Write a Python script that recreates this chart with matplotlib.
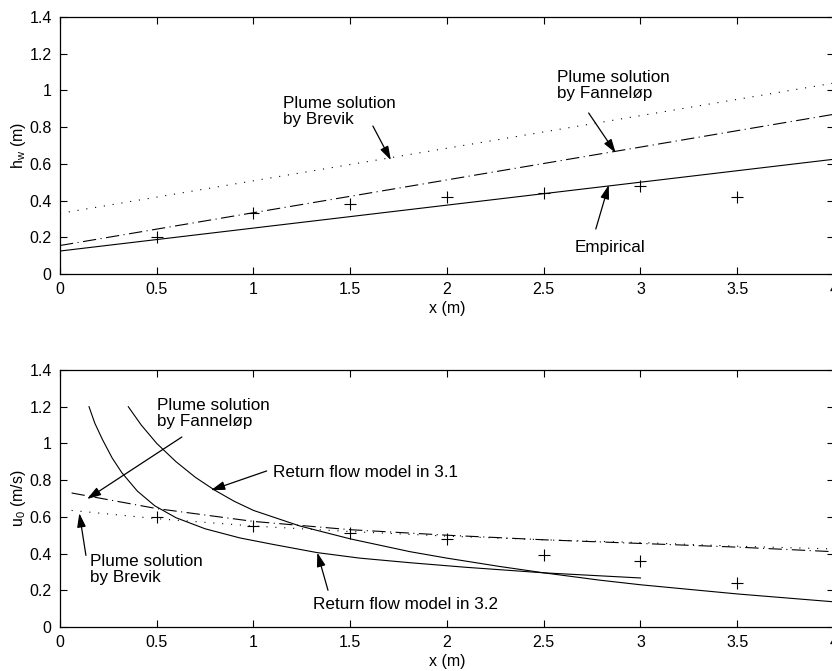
import matplotlib
matplotlib.use("Agg")
import matplotlib.pyplot as plt
from matplotlib.ticker import FuncFormatter

plt.rcParams['font.family'] = ['Liberation Sans', 'DejaVu Sans']
plt.rcParams['mathtext.default'] = 'regular'

# ---- top panel: water layer thickness h_w
x_meas = [0.5, 1.0, 1.5, 2.0, 2.5, 3.0, 3.5]
hw_meas = [0.20, 0.33, 0.38, 0.42, 0.44, 0.48, 0.42]
x_line = [0.0, 4.0]
hw_empirical = [0.125, 0.625]
hw_fannelop = [0.155, 0.87]
hw_brevik = [0.33, 1.04]

# ---- bottom panel: return velocity u_0
u0_meas = [0.60, 0.55, 0.51, 0.48, 0.39, 0.36, 0.24]
x_rf31 = [0.353, 0.42, 0.50, 0.60, 0.70, 0.80, 0.90, 1.00, 1.24, 1.50,
          1.81, 2.00, 2.27, 2.50, 2.79, 3.00, 3.50, 4.00]
u0_rf31 = [1.20, 1.10, 1.00, 0.90, 0.815, 0.745, 0.685, 0.635, 0.55, 0.48,
           0.41, 0.375, 0.33, 0.295, 0.255, 0.23, 0.18, 0.137]
x_rf32 = [0.15, 0.18, 0.22, 0.27, 0.32, 0.40, 0.49, 0.60, 0.75, 0.93, 1.10,
          1.33, 1.55, 1.81, 2.10, 2.50, 3.00]
u0_rf32 = [1.20, 1.11, 1.02, 0.92, 0.84, 0.74, 0.66, 0.595, 0.535, 0.485, 0.45,
           0.405, 0.375, 0.35, 0.325, 0.295, 0.267]
x_plume = [0.06, 0.5, 1.0, 1.5, 2.0, 2.5, 3.0, 3.5, 4.0]
u0_fannelop = [0.73, 0.645, 0.575, 0.53, 0.50, 0.475, 0.455, 0.435, 0.41]
u0_brevik = [0.635, 0.59, 0.55, 0.52, 0.495, 0.475, 0.46, 0.44, 0.425]

fig = plt.figure(figsize=(8.32, 6.71), dpi=100)
ax1 = fig.add_axes([0.0721, 0.5917, 0.9303, 0.383])
ax2 = fig.add_axes([0.0721, 0.0656, 0.9303, 0.383])

lw = 0.8
dashdot = (0, (12, 4, 1, 4))
dotted = (0, (1, 7))

def fmt(v, pos):
    return '%g' % round(v, 2)

for ax in (ax1, ax2):
    ax.set_xlim(0, 4)
    ax.set_ylim(0, 1.4)
    ax.set_xticks([0, 0.5, 1, 1.5, 2, 2.5, 3, 3.5, 4])
    ax.set_yticks([0, 0.2, 0.4, 0.6, 0.8, 1.0, 1.2, 1.4])
    ax.xaxis.set_major_formatter(FuncFormatter(fmt))
    ax.yaxis.set_major_formatter(FuncFormatter(fmt))
    ax.tick_params(direction='in', top=True, right=True, length=5, width=0.8,
                   labelsize=11.5, pad=6)
    for s in ax.spines.values():
        s.set_linewidth(0.9)
    ax.set_xlabel('x (m)', fontsize=11.5, labelpad=3)

arrow = dict(arrowstyle='-|>,head_length=0.7,head_width=0.22', color='black',
             lw=0.9, mutation_scale=12, shrinkA=0, shrinkB=0)

# top panel
ax1.plot(x_line, hw_empirical, color='black', lw=lw)
ax1.plot(x_line, hw_fannelop, color='black', lw=lw, linestyle=dashdot)
ax1.plot(x_line, hw_brevik, color='black', lw=lw, linestyle=dotted)
ax1.plot(x_meas, hw_meas, '+', color='black', markersize=8, mew=0.8)
ax1.set_ylabel('h$_w$ (m)', fontsize=11.5, labelpad=1)

ax1.text(1.152, 0.97, 'Plume solution\nby Brevik', fontsize=12.3, va='top', linespacing=1.1)
ax1.annotate('', xy=(1.71, 0.62), xytext=(1.617, 0.806), arrowprops=arrow)
ax1.text(2.567, 1.11, 'Plume solution\nby Fanneløp', fontsize=12.3, va='top', linespacing=1.1)
ax1.annotate('', xy=(2.872, 0.659), xytext=(2.732, 0.877), arrowprops=arrow)
ax1.text(2.66, 0.142, 'Empirical', fontsize=12.3, va='center')
ax1.annotate('', xy=(2.836, 0.485), xytext=(2.769, 0.245), arrowprops=arrow)

# bottom panel
ax2.plot(x_rf31, u0_rf31, color='black', lw=lw)
ax2.plot(x_rf32, u0_rf32, color='black', lw=lw)
ax2.plot(x_plume, u0_fannelop, color='black', lw=lw, linestyle=dashdot)
ax2.plot(x_plume, u0_brevik, color='black', lw=lw, linestyle=dotted)
ax2.plot(x_meas, u0_meas, '+', color='black', markersize=8, mew=0.8)
ax2.set_ylabel('u$_0$ (m/s)', fontsize=11.5, labelpad=1)

ax2.text(0.50, 1.25, 'Plume solution\nby Fanneløp', fontsize=12.3, va='top', linespacing=1.1)
ax2.annotate('', xy=(0.14, 0.697), xytext=(0.63, 1.035), arrowprops=arrow)
ax2.text(1.10, 0.84, 'Return flow model in 3.1', fontsize=12.3, va='center')
ax2.annotate('', xy=(0.78, 0.745), xytext=(1.068, 0.85), arrowprops=arrow)
ax2.text(0.155, 0.40, 'Plume solution\nby Brevik', fontsize=12.3, va='top', linespacing=1.1)
ax2.annotate('', xy=(0.10, 0.62), xytext=(0.134, 0.39), arrowprops=arrow)
ax2.text(1.31, 0.12, 'Return flow model in 3.2', fontsize=12.3, va='center')
ax2.annotate('', xy=(1.33, 0.405), xytext=(1.385, 0.20), arrowprops=arrow)

fig.savefig('out.png', dpi=100)
